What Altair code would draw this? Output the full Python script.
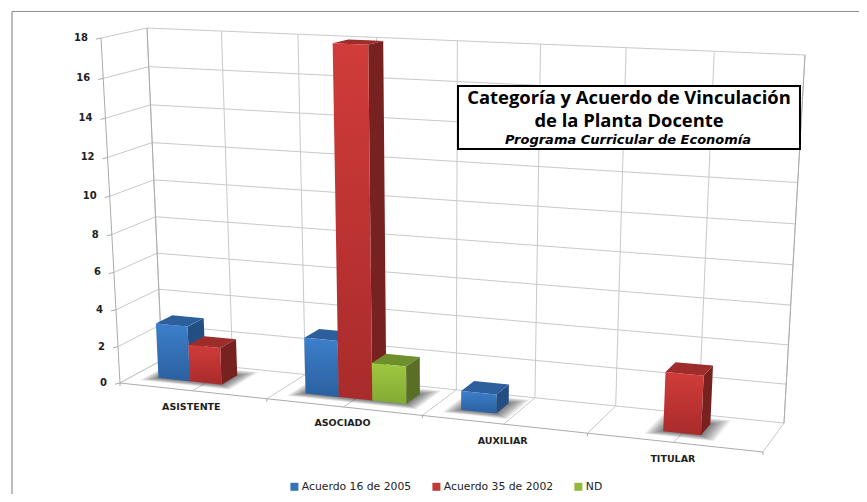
import numpy as np
import pandas as pd
import altair as alt

# ---- chart values ----
categories = ["ASISTENTE", "ASOCIADO", "AUXILIAR", "TITULAR"]
series_names = ["Acuerdo 16 de 2005", "Acuerdo 35 de 2002", "ND"]
acuerdo_16 = [3, 3, 1, 0]
acuerdo_35 = [2, 18, 0, 3]
nd_values = [0, 2, 0, 0]
y_ticks = [0, 2, 4, 6, 8, 10, 12, 14, 16, 18]
title_lines = ["Categoría y Acuerdo de Vinculación", "de la Planta Docente"]
subtitle = "Programa Curricular de Economía"

YMAX = 18.0
# visible page area once the 8px margins are kept on every side
X0, X1, Y0, Y1 = 8, 859, 8, 494


def homography(corners):
    src = [(0, 0), (1, 0), (0, 1), (1, 1)]
    A, b = [], []
    for (s, t), (x, y) in zip(src, corners):
        A.append([s, t, 1, 0, 0, 0, -s * x, -t * x]); b.append(x)
        A.append([0, 0, 0, s, t, 1, -s * y, -t * y]); b.append(y)
    h = np.linalg.solve(np.array(A, float), np.array(b, float))
    return np.append(h, 1).reshape(3, 3)


# wall planes of the 3D box: (u, value) -> picture position
FRONT = homography([(120, 383), (763, 452), (101, 38), (785, 65)])
BACK = homography([(162, 360), (784, 423), (147, 28), (805, 55)])


def plane(M, u, t):
    p = M @ np.array([u, t, 1.0])
    return p[:2] / p[2]


def P(u, v, w):
    """u along the categories, v depth (0 front, 1 back), w value."""
    t = w / YMAX
    return tuple((1 - v) * plane(FRONT, u, t) + v * plane(BACK, u, t))


def seg(a, b):
    return {"x": a[0], "y": a[1], "x2": b[0], "y2": b[1]}


def poly_rows(pts):
    """Convex polygon as x / y / y2 rows for an area mark."""
    xs = sorted({round(p[0], 3) for p in pts})
    rows = []
    n = len(pts)
    for x in xs:
        ys = []
        for i in range(n):
            a, b = pts[i], pts[(i + 1) % n]
            lo, hi = min(a[0], b[0]) - 0.002, max(a[0], b[0]) + 0.002
            if lo <= x <= hi:
                if abs(a[0] - b[0]) < 1e-6:
                    ys += [a[1], b[1]]
                else:
                    s = min(1, max(0, (x - a[0]) / (b[0] - a[0])))
                    ys.append(a[1] + s * (b[1] - a[1]))
        rows.append({"x": x, "y": min(ys), "y2": max(ys)})
    return rows


X = alt.Scale(domain=[X0, X1], nice=False, zero=False, padding=0)
Y = alt.Scale(domain=[Y0, Y1], range=[0, Y1 - Y0], nice=False, zero=False, padding=0)
ax = dict(axis=None, scale=X)
ay = dict(axis=None, scale=Y)


def rules(rows, color, width=1.0, opacity=1.0):
    return alt.Chart(pd.DataFrame(rows)).mark_rule(
        color=color, strokeWidth=width, opacity=opacity
    ).encode(
        x=alt.X("x:Q", **ax), y=alt.Y("y:Q", **ay), x2="x2:Q", y2="y2:Q"
    )


def face(pts, fill, opacity=1.0):
    return alt.Chart(pd.DataFrame(poly_rows(pts))).mark_area(
        color=fill, opacity=opacity, orient="vertical", line=False
    ).encode(x=alt.X("x:Q", **ax), y=alt.Y("y:Q", **ay), y2="y2:Q")


def grad(c0, c1):
    return alt.Gradient(
        gradient="linear",
        stops=[alt.GradientStop(color=c0, offset=0), alt.GradientStop(color=c1, offset=1)],
        x1=0, x2=0, y1=0, y2=1,
    )


layers = []

# frame
frame = [
    seg((12, 11.5), (X1, 11.5)),
    seg((12, 11.5), (12, Y1)),
]
layers.append(rules(frame, "#8f8f8f", 1.2))

# grid
grid_light, grid_dark = [], []
n_div = 2 * len(categories)
for w in y_ticks:
    grid_light.append(seg(P(0, 1, w), P(1, 1, w)))
    grid_light.append(seg(P(0, 0, w), P(0, 1, w)))
    a = P(0, 0, w)
    grid_dark.append(seg((a[0] - 5, a[1] + 1.2), a))
for k in range(n_div + 1):
    u = k / n_div
    grid_light.append(seg(P(u, 1, 0), P(u, 1, YMAX)))
    grid_light.append(seg(P(u, 0, 0), P(u, 1, 0)))
grid_dark += [
    seg(P(0, 0, 0), P(0, 0, YMAX)),
    seg(P(0, 1, 0), P(0, 1, YMAX)),
    seg(P(1, 1, 0), P(1, 1, YMAX)),
    seg(P(0, 0, 0), P(1, 0, 0)),
]
for k in range(0, n_div + 1, 2):
    a = P(k / n_div, 0, 0)
    grid_dark.append(seg(a, (a[0], a[1] + 3)))
layers.append(rules(grid_light, "#c9c9c9", 1.0))
layers.append(rules(grid_dark, "#ababab", 1.0))

# bars
palette = {
    0: dict(front=grad("#3c7fcb", "#2b609f"), top="#2c5f9c", side="#234e82", solid="#3672b8"),
    1: dict(front=grad("#d03c3a", "#a92b2b"), top="#9e2c2a", side="#772120", solid="#c23a38"),
    2: dict(front=grad("#9fc840", "#82aa34"), top="#6f8f2c", side="#596f26", solid="#8fb93a"),
}
series_values = [acuerdo_16, acuerdo_35, nd_values]
cat_w = 1 / len(categories)
slot = 0.218 * cat_w  # width of one bar along u
V0, V1 = 0.33, 0.72

bars = []
for c in range(len(categories)):
    for s in range(len(series_names)):
        val = series_values[s][c]
        if val > 0:
            u0 = (c + 0.5) * cat_w + (s - 1.5) * slot
            bars.append((c, s, val, u0, u0 + slot))

# soft shadows on the floor
for c in range(len(categories)):
    cb = [b for b in bars if b[0] == c]
    ul, ur = min(b[3] for b in cb), max(b[4] for b in cb)
    for i in range(1, 13):
        g = i / 12
        layers.append(face([
            P(ul - 0.022 * g, V0 - 0.15 * g, 0),
            P(ur + 0.024 * g, V0 - 0.15 * g, 0),
            P(ur + 0.024 * g, V1 + 0.2 * g, 0),
            P(ul - 0.022 * g, V1 + 0.2 * g, 0),
        ], "#000000", 0.05))

for c, s, val, u0, u1 in bars:
    p = palette[s]
    layers.append(face([P(u1, V0, 0), P(u1, V1, 0), P(u1, V1, val), P(u1, V0, val)], p["side"]))
    layers.append(face([P(u0, V0, val), P(u1, V0, val), P(u1, V1, val), P(u0, V1, val)], p["top"]))
    layers.append(face([P(u0, V0, 0), P(u1, V0, 0), P(u1, V0, val), P(u0, V0, val)], p["front"]))

# value-axis labels
ylab = []
for w in y_ticks:
    a = P(0, 0, w)
    ylab.append({"x": a[0] - 13, "y": a[1], "t": str(w)})
layers.append(alt.Chart(pd.DataFrame(ylab)).mark_text(
    align="right", baseline="middle", font="DejaVu Sans", fontWeight="bold", fontSize=10, color="#1e1e1e"
).encode(x=alt.X("x:Q", **ax), y=alt.Y("y:Q", **ay), text="t:N"))

# category labels
xlab = []
for c, name in enumerate(categories):
    a = P((c + 0.5) * cat_w, 0, 0)
    xlab.append({"x": a[0] - 1, "y": a[1] + 16.5, "t": name})
layers.append(alt.Chart(pd.DataFrame(xlab)).mark_text(
    align="center", baseline="middle", font="DejaVu Sans", fontWeight="bold", fontSize=9.5, color="#1e1e1e"
).encode(x=alt.X("x:Q", **ax), y=alt.Y("y:Q", **ay), text="t:N"))

# title box
box = pd.DataFrame([{"x": 458, "x2": 800, "y": 86, "y2": 149}])
layers.append(alt.Chart(box).mark_rect(fill="white", stroke="black", strokeWidth=2).encode(
    x=alt.X("x:Q", **ax), x2="x2:Q", y=alt.Y("y:Q", **ay), y2="y2:Q"
))
title_df = pd.DataFrame([
    {"x": 629, "y": 98, "t": title_lines[0]},
    {"x": 629, "y": 121, "t": title_lines[1]},
])
layers.append(alt.Chart(title_df).mark_text(
    align="center", baseline="middle", font="Open Sans", fontWeight="bold", fontSize=18.4, color="black"
).encode(x=alt.X("x:Q", **ax), y=alt.Y("y:Q", **ay), text="t:N"))
layers.append(alt.Chart(pd.DataFrame([{"x": 628, "y": 140, "t": subtitle}])).mark_text(
    align="center", baseline="middle", font="DejaVu Sans", fontWeight="bold", fontStyle="italic",
    fontSize=13, color="black"
).encode(x=alt.X("x:Q", **ax), y=alt.Y("y:Q", **ay), text="t:N"))

# legend, driven by the series names
legend_df = pd.DataFrame({"serie": series_names, "x": [289.0] * 3, "y": [488.0] * 3})
layers.append(alt.Chart(legend_df).mark_point(filled=True, shape="square", size=0, opacity=1).encode(
    x=alt.X("x:Q", **ax), y=alt.Y("y:Q", **ay),
    color=alt.Color("serie:N", scale=alt.Scale(
        domain=series_names, range=[palette[i]["solid"] for i in range(3)]
    ), legend=alt.Legend(
        title=None, orient="none", legendX=281, legendY=473, direction="horizontal",
        symbolType="square", symbolSize=64, symbolOpacity=1, symbolStrokeWidth=0,
        labelFont="DejaVu Sans", labelFontSize=10.8, labelColor="#222222",
        columnPadding=19, labelOffset=2, columns=3,
    )),
))

chart = alt.layer(*layers).properties(
    width=X1 - X0, height=Y1 - Y0, padding=0, background="white"
).configure_view(stroke=None)
chart = chart.properties(autosize=alt.AutoSizeParams(type="none"))

chart.save("out.html", embed_options={"renderer": "svg", "actions": False})
